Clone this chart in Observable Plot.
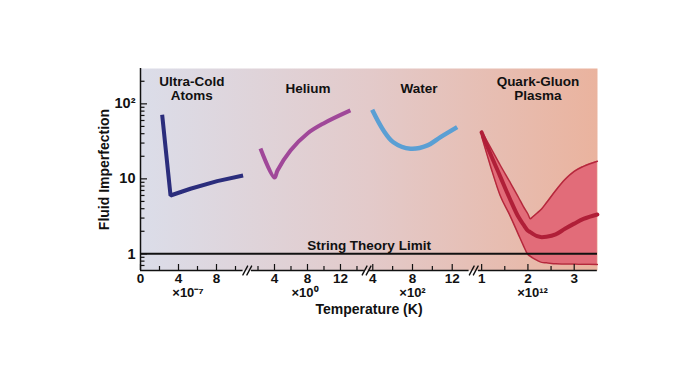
<!DOCTYPE html>
<html><head><meta charset="utf-8">
<script src="https://cdn.jsdelivr.net/npm/d3@7"></script>
<script src="https://cdn.jsdelivr.net/npm/@observablehq/plot@0.6"></script>
<style>html,body{margin:0;padding:0;background:#fff;} #chart svg{display:block;}</style>
</head><body><div id="chart"></div>
<script>
// ---------- data ----------
// four temperature segments of the broken x axis
const segNames = ["Ultra-Cold\nAtoms", "Helium", "Water", "Quark-Gluon\nPlasma"];
const segUnits = [1e-7, 1, 1e2, 1e12];            // K per axis unit
const segExpLabels = ["×10⁻⁷", "×10⁰", "×10²", "×10¹²"];
const segExpAt = [5, 7.7, 8, 2.1];                 // axis units
const segLo = [0, 1.2, 3.6, 0.93];                 // axis units
const segHi = [10.8, 14.9, 13.7, 3.5];
const majorTicks = [[0, 4, 8], [4, 8, 12], [4, 8, 12], [1, 2, 3]];
const minorTicks = [[2, 6, 10], [2, 6, 10, 14], [6, 10], [1.5, 2.5]];

// y axis
const yMajor = [1, 10, 100];
const yMajorLabels = ["1", "10", "10²"];
const yMinor = [0.7, 0.8, 0.9, 2, 3, 4, 5, 6, 7, 8, 9, 20, 30, 40, 50, 60, 70, 80, 90, 200];

// ultra-cold atoms (T in 1e-7 K)
const ucT = [2.28, 3.16, 5.26, 8.07, 10.95];
const ucV = [71.6, 6.0, 7.38, 9.32, 11.1];
// helium (T in K)
const heT = [2.3, 4.0, 4.36, 5.94, 8.0, 9.94, 13.2];
const heV = [25.4, 10.4, 12.9, 23.9, 40.3, 54.8, 81.7];
// water (T in 1e2 K)
const waterT = [3.94, 5.08, 6.07, 7.8, 9.51, 10.82, 12.5];
const waterV = [83.4, 44.2, 30.8, 25.2, 27.9, 36.0, 48.9];
// quark-gluon plasma (T in 1e12 K)
const qgpT    = [1.0, 1.2, 1.4, 1.6, 1.8, 1.9, 2.0, 2.05, 2.1, 2.2, 2.3, 2.4, 2.6, 2.8, 3.0, 3.2, 3.5];
const qgpLow  = [36.8, 14.2, 6.0, 3.36, 1.78, 1.30, 0.98, 0.93, 0.885, 0.817, 0.77, 0.76, 0.736, 0.733, 0.73, 0.726, 0.722];
const qgpMid  = [41.6, 20.8, 10.8, 5.6, 3.07, 2.47, 2.03, 1.95, 1.86, 1.72, 1.67, 1.69, 1.82, 2.16, 2.53, 2.92, 3.35];
const qgpHigh = [43, 25.7, 15.3, 9.3, 5.6, 4.3, 3.4, 2.94, 3.1, 3.5, 4.0, 4.8, 7.0, 9.8, 12.6, 14.7, 17.2];

// ---------- build tables ----------
const toK = (seg, v) => v * segUnits[seg];
const uc = ucT.map((t, i) => ({T: toK(0, t), v: ucV[i]}));
const he = heT.map((t, i) => ({T: toK(1, t), v: heV[i]}));
const water = waterT.map((t, i) => ({T: toK(2, t), v: waterV[i]}));
const qgp = qgpT.map((t, i) => ({T: toK(3, t), lo: qgpLow[i], mid: qgpMid[i], hi: qgpHigh[i]}));

const segIdx = segNames.map((_, i) => i);
const xMajor = [], xMinor = [], tickLabel = new Map();
majorTicks.forEach((ts, i) => ts.forEach(t => { const k = toK(i, t); xMajor.push(k); tickLabel.set(k, String(t)); }));
minorTicks.forEach((ts, i) => ts.forEach(t => xMinor.push(toK(i, t))));
const yLabel = new Map(yMajor.map((v, i) => [v, yMajorLabels[i]]));
const axisSegs = segIdx.map(i => ({x1: toK(i, segLo[i]), x2: toK(i, segHi[i])}));
const breaks = segIdx.slice(0, -1).map(i => ({x: (toK(i, segHi[i]) + toK(i + 1, segLo[i + 1])) / 2}));

// piecewise-linear x scale: each segment gets its own stretch of the axis
const xDomain = segIdx.flatMap(i => [toK(i, segLo[i]), toK(i, segHi[i])]);
const xRange = [140, 242.6, 250.9, 363.9, 368.3, 468.6, 477.9, 596.85];
const yMin = 0.6, yMax = 296;

const font = '"Liberation Sans", Arial, Helvetica, sans-serif';
const ink = "#111";
const slash = {draw(context, l) { context.moveTo(0, 0); context.lineTo(0, -l); }};

const chart = Plot.plot({
  width: 696, height: 385,
  marginLeft: 140, marginRight: 99, marginTop: 68, marginBottom: 115,
  style: {fontFamily: font, fontWeight: "bold", color: ink, background: "transparent", overflow: "visible"},
  x: {type: "linear", domain: xDomain, range: xRange},
  y: {type: "log", domain: [yMin, yMax]},
  marks: [
    Plot.frame({fill: "url(#bgGrad)", stroke: "none"}),
    // QGP band
    Plot.areaY(qgp, {x: "T", y1: "lo", y2: "hi", fill: "#E26C79", curve: "monotone-x"}),
    Plot.line(qgp, {x: "T", y: "lo", stroke: "#B5283C", strokeWidth: 1.5, curve: "monotone-x"}),
    Plot.line(qgp, {x: "T", y: "hi", stroke: "#B5283C", strokeWidth: 1.5, curve: "monotone-x"}),
    Plot.line(qgp, {x: "T", y: "mid", stroke: "#B01F38", strokeWidth: 4, curve: "monotone-x"}),
    // fluids
    Plot.line(uc, {x: "T", y: "v", stroke: "#2B2D7C", strokeWidth: 4, strokeLinejoin: "miter", strokeLinecap: "butt"}),
    Plot.line(he, {x: "T", y: "v", stroke: "#A04899", strokeWidth: 4, curve: "catmull-rom", strokeLinejoin: "miter", strokeLinecap: "butt"}),
    Plot.line(water, {x: "T", y: "v", stroke: "#5A9FD4", strokeWidth: 4.5, curve: "catmull-rom", strokeLinecap: "butt"}),
    // string theory limit
    Plot.ruleY([1], {stroke: ink, strokeWidth: 2}),
    Plot.text(["String Theory Limit"], {y: [1], frameAnchor: "middle", lineAnchor: "bottom", dy: -3.5, fontSize: 13.5, fill: ink}),
    // axes lines
    Plot.ruleX([0], {stroke: ink, strokeWidth: 1.5}),
    Plot.ruleY(axisSegs, {x1: "x1", x2: "x2", y: () => yMin, stroke: ink, strokeWidth: 1.5}),
    // axis-break marks "//"
    Plot.vector(breaks, {x: "x", y: () => yMin, length: 10, rotate: 28, anchor: "middle", shape: slash, stroke: ink, strokeWidth: 1.4, dx: -2}),
    Plot.vector(breaks, {x: "x", y: () => yMin, length: 10, rotate: 28, anchor: "middle", shape: slash, stroke: ink, strokeWidth: 1.4, dx: 2}),
    // x ticks
    Plot.axisX({ticks: xMajor, tickSize: -6, tickFormat: () => "", label: null, strokeWidth: 1.2}),
    Plot.axisX({ticks: xMinor, tickSize: -4, tickFormat: () => "", label: null, strokeWidth: 1.2}),
    Plot.axisX({ticks: xMajor, tickSize: 0, tickPadding: 2.5, tickFormat: k => tickLabel.get(k), label: null, fontSize: 13.5}),
    Plot.text(segIdx, {x: i => toK(i, segExpAt[i]), y: () => yMin, text: i => segExpLabels[i], dy: 22, lineAnchor: "middle", fontSize: 13, fill: ink}),
    // y ticks
    Plot.axisY({ticks: yMajor, tickSize: -7, tickFormat: () => "", label: null, strokeWidth: 1.2}),
    Plot.axisY({ticks: yMinor, tickSize: -4.5, tickFormat: () => "", label: null, strokeWidth: 1.2}),
    Plot.axisY({ticks: yMajor, tickSize: 0, tickPadding: 5, tickFormat: v => yLabel.get(v), label: null, fontSize: 14.5}),
    // axis titles
    Plot.text(["Temperature (K)"], {frameAnchor: "bottom", dy: 39, lineAnchor: "middle", fontSize: 14, fill: ink}),
    Plot.text(["Fluid Imperfection"], {frameAnchor: "left", dx: -36, rotate: -90, textAnchor: "middle", lineAnchor: "middle", fontSize: 14, fill: ink}),
    // segment titles
    Plot.text(segIdx, {x: i => toK(i, (segLo[i] + segHi[i]) / 2), frameAnchor: "top", dy: 20, text: i => segNames[i], lineAnchor: "middle", lineHeight: 1.08, fontSize: 13.5, fill: ink})
  ]
});

const ns = "http://www.w3.org/2000/svg";
const defs = document.createElementNS(ns, "defs");
defs.innerHTML = '<linearGradient id="bgGrad" x1="0" y1="0" x2="1" y2="0">' +
  '<stop offset="0" stop-color="#DBDDE9"/><stop offset="0.5" stop-color="#E3CACA"/><stop offset="1" stop-color="#EAB39E"/></linearGradient>';
chart.insertBefore(defs, chart.firstChild);
document.getElementById("chart").appendChild(chart);
</script>
</body></html>
